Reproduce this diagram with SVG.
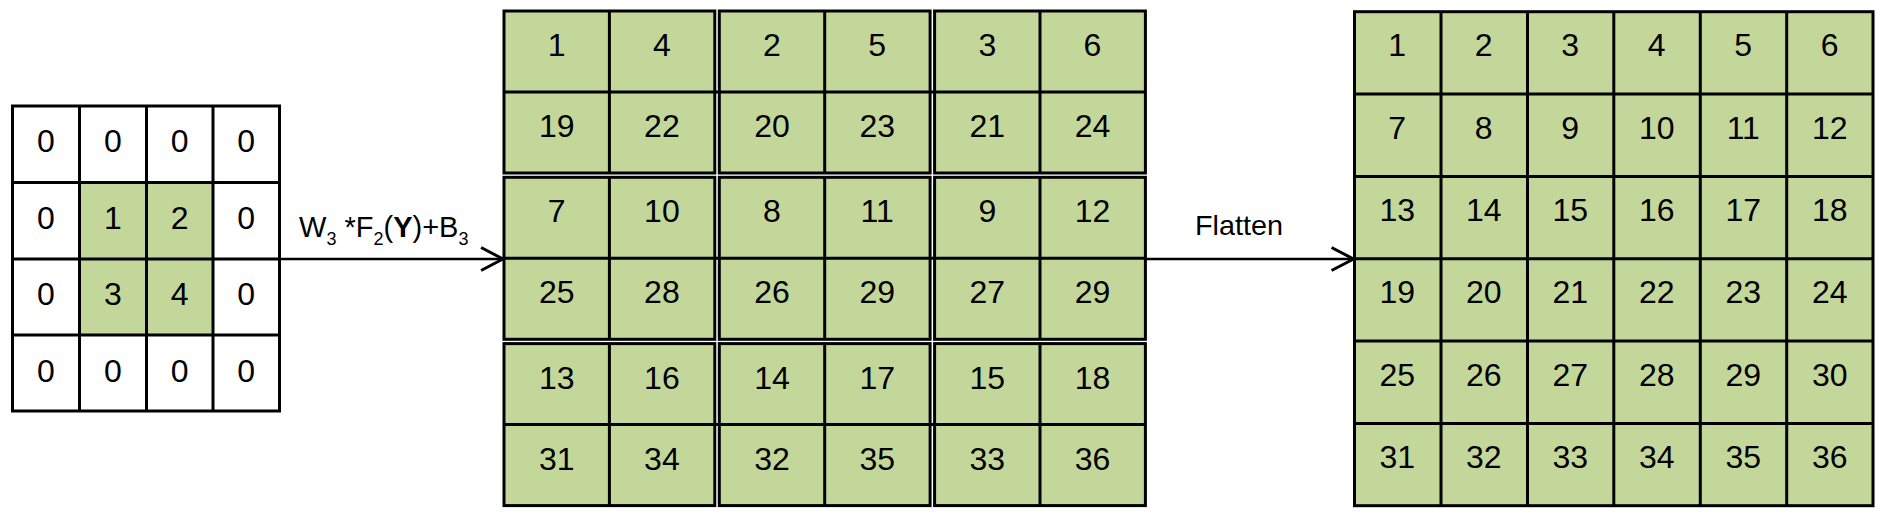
<svg xmlns="http://www.w3.org/2000/svg" width="1886" height="516" viewBox="0 0 1886 516">
<defs>
<style>
.g{fill:#C4D79B}
.ln{stroke:#000;stroke-width:3;fill:none}
.blk{fill:#C4D79B;stroke:#000;stroke-width:3}
.n{font-family:"Liberation Sans",Arial,sans-serif;font-size:32px;fill:#000;text-anchor:middle}
.lbl{font-family:"Liberation Sans",Arial,sans-serif;font-size:28px;fill:#000}
.con{stroke:#000;stroke-width:2.6;fill:none}
</style>
<marker id="arr" markerUnits="userSpaceOnUse" markerWidth="30" markerHeight="30" viewBox="-22 -13 24 26" refX="0" refY="0" orient="auto">
<path d="M-19,-10 L0,0 L-19,10" fill="none" stroke="#000" stroke-width="2.6"/>
</marker>
</defs>
<rect width="1886" height="516" fill="#fff"/>

<g id="input-grid">
<rect class="g" x="79.5" y="182.5" width="133.5" height="152.5"/>
<rect class="ln" x="12.5" y="106" width="267" height="305"/>
<path class="ln" d="M79.5,106V411M146.5,106V411M213,106V411M12.5,182.5H279.5M12.5,259H279.5M12.5,335H279.5"/>
<g class="n">
<text x="46" y="152">0</text><text x="113" y="152">0</text><text x="179.75" y="152">0</text><text x="246.25" y="152">0</text>
<text x="46" y="228.5">0</text><text x="113" y="228.5">1</text><text x="179.75" y="228.5">2</text><text x="246.25" y="228.5">0</text>
<text x="46" y="305">0</text><text x="113" y="305">3</text><text x="179.75" y="305">4</text><text x="246.25" y="305">0</text>
<text x="46" y="382">0</text><text x="113" y="382">0</text><text x="179.75" y="382">0</text><text x="246.25" y="382">0</text>
</g>
</g>

<g id="conv-grid">
<rect class="blk" x="504" y="11" width="210.8" height="162"/>
<rect class="blk" x="719.3" y="11" width="210.8" height="162"/>
<rect class="blk" x="934.6" y="11" width="210.8" height="162"/>
<rect class="blk" x="504" y="177.3" width="210.8" height="162"/>
<rect class="blk" x="719.3" y="177.3" width="210.8" height="162"/>
<rect class="blk" x="934.6" y="177.3" width="210.8" height="162"/>
<rect class="blk" x="504" y="343.6" width="210.8" height="162"/>
<rect class="blk" x="719.3" y="343.6" width="210.8" height="162"/>
<rect class="blk" x="934.6" y="343.6" width="210.8" height="162"/>
<path class="ln" d="M609.4,11V173M824.7,11V173M1040,11V173M609.4,177.3V339.3M824.7,177.3V339.3M1040,177.3V339.3M609.4,343.6V505.6M824.7,343.6V505.6M1040,343.6V505.6M504,92H1145.4M504,258.3H1145.4M504,424.6H1145.4"/>
<g class="n">
<text x="556.7" y="56">1</text><text x="661.9" y="56">4</text><text x="772" y="56">2</text><text x="877.2" y="56">5</text><text x="987.3" y="56">3</text><text x="1092.5" y="56">6</text>
<text x="556.7" y="137">19</text><text x="661.9" y="137">22</text><text x="772" y="137">20</text><text x="877.2" y="137">23</text><text x="987.3" y="137">21</text><text x="1092.5" y="137">24</text>
<text x="556.7" y="222.3">7</text><text x="661.9" y="222.3">10</text><text x="772" y="222.3">8</text><text x="877.2" y="222.3">11</text><text x="987.3" y="222.3">9</text><text x="1092.5" y="222.3">12</text>
<text x="556.7" y="303.3">25</text><text x="661.9" y="303.3">28</text><text x="772" y="303.3">26</text><text x="877.2" y="303.3">29</text><text x="987.3" y="303.3">27</text><text x="1092.5" y="303.3">29</text>
<text x="556.7" y="388.6">13</text><text x="661.9" y="388.6">16</text><text x="772" y="388.6">14</text><text x="877.2" y="388.6">17</text><text x="987.3" y="388.6">15</text><text x="1092.5" y="388.6">18</text>
<text x="556.7" y="469.6">31</text><text x="661.9" y="469.6">34</text><text x="772" y="469.6">32</text><text x="877.2" y="469.6">35</text><text x="987.3" y="469.6">33</text><text x="1092.5" y="469.6">36</text>
</g>
</g>

<g id="flat-grid">
<rect class="blk" x="1354.5" y="11.7" width="518.5" height="494"/>
<path class="ln" d="M1441,11.7V505.7M1527.5,11.7V505.7M1613.8,11.7V505.7M1700.3,11.7V505.7M1786.7,11.7V505.7M1354.5,94H1873M1354.5,176.4H1873M1354.5,258.7H1873M1354.5,341H1873M1354.5,423.4H1873"/>
<g class="n">
<text x="1397.25" y="56.2">1</text><text x="1483.75" y="56.2">2</text><text x="1570.25" y="56.2">3</text><text x="1656.75" y="56.2">4</text><text x="1743.25" y="56.2">5</text><text x="1829.75" y="56.2">6</text>
<text x="1397.25" y="138.5">7</text><text x="1483.75" y="138.5">8</text><text x="1570.25" y="138.5">9</text><text x="1656.75" y="138.5">10</text><text x="1743.25" y="138.5">11</text><text x="1829.75" y="138.5">12</text>
<text x="1397.25" y="220.9">13</text><text x="1483.75" y="220.9">14</text><text x="1570.25" y="220.9">15</text><text x="1656.75" y="220.9">16</text><text x="1743.25" y="220.9">17</text><text x="1829.75" y="220.9">18</text>
<text x="1397.25" y="303.2">19</text><text x="1483.75" y="303.2">20</text><text x="1570.25" y="303.2">21</text><text x="1656.75" y="303.2">22</text><text x="1743.25" y="303.2">23</text><text x="1829.75" y="303.2">24</text>
<text x="1397.25" y="385.5">25</text><text x="1483.75" y="385.5">26</text><text x="1570.25" y="385.5">27</text><text x="1656.75" y="385.5">28</text><text x="1743.25" y="385.5">29</text><text x="1829.75" y="385.5">30</text>
<text x="1397.25" y="467.9">31</text><text x="1483.75" y="467.9">32</text><text x="1570.25" y="467.9">33</text><text x="1656.75" y="467.9">34</text><text x="1743.25" y="467.9">35</text><text x="1829.75" y="467.9">36</text>
</g>
</g>

<g id="connectors">
<line class="con" x1="281" y1="259" x2="503" y2="259" marker-end="url(#arr)"/>
<line class="con" x1="1146" y1="259" x2="1353.5" y2="259" marker-end="url(#arr)"/>
<text class="lbl" x="299" y="236.5" font-size="29" style="font-size:29px">W<tspan style="font-size:18px" dy="8.5">3</tspan><tspan dy="-8.5"> *F</tspan><tspan style="font-size:18px" dy="8.5">2</tspan><tspan dy="-8.5">(</tspan><tspan font-weight="bold">Y</tspan>)+B<tspan style="font-size:18px" dy="8.5">3</tspan></text>
<text class="lbl" x="1195" y="235" textLength="88" lengthAdjust="spacingAndGlyphs">Flatten</text>
</g>
</svg>
